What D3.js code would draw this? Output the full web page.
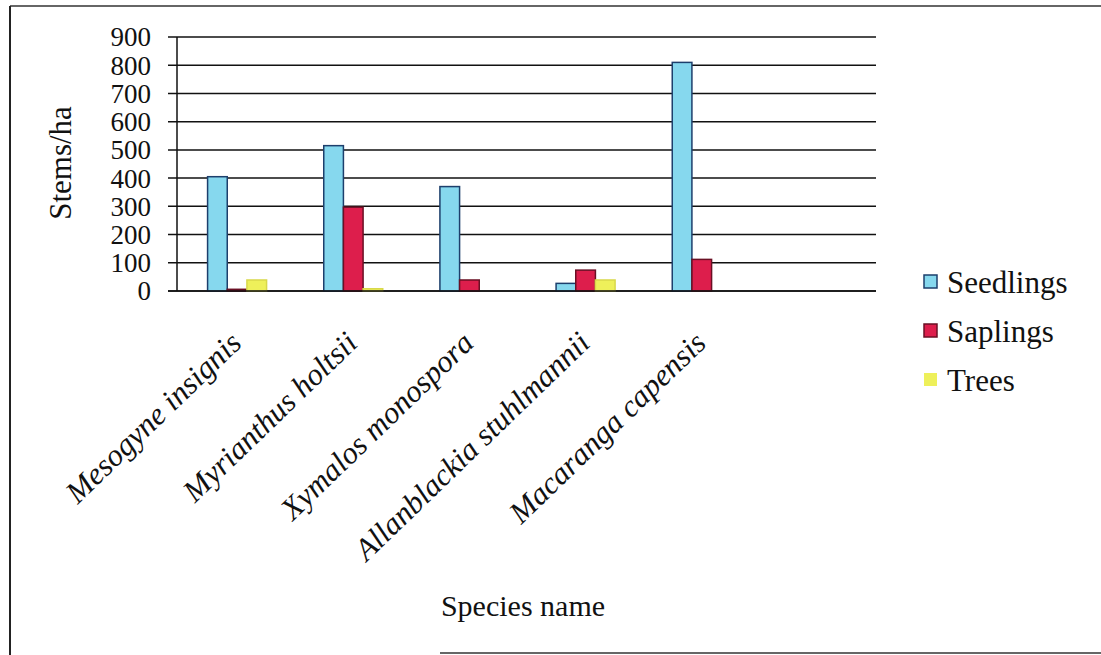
<!DOCTYPE html>
<html>
<head>
<meta charset="utf-8">
<script src="https://cdn.jsdelivr.net/npm/d3@7"></script>
<style>
  body { margin: 0; background: #fff; }
</style>
</head>
<body>
<svg id="chart" width="1101" height="655"></svg>
<script>
// Dati
const species = ["Mesogyne insignis", "Myrianthus holtsii", "Xymalos monospora", "Allanblackia stuhlmannii", "Macaranga capensis", ""];
const seedlings = [405, 515, 370, 27, 810];
const saplings = [6, 297, 39, 74, 112];
const trees = [39, 8, 0, 39, 0];
const seriesNames = ["Seedlings", "Saplings", "Trees"];
const yTicks = [0, 100, 200, 300, 400, 500, 600, 700, 800, 900];

const font = "'Liberation Serif', 'DejaVu Serif', serif";
const fills = { Seedlings: "#86d8ee", Saplings: "#dd1e4c", Trees: "#eef05a" };
const strokes = { Seedlings: "#1d3f6c", Saplings: "#6a1024", Trees: "#d8d84a" };

const svg = d3.select("#chart");

// Cornice (scansione)
svg.append("line").attr("x1", 10).attr("y1", 6).attr("x2", 1101).attr("y2", 6)
  .attr("stroke", "#333").attr("stroke-width", 1.5);
svg.append("line").attr("x1", 10).attr("y1", 6).attr("x2", 10).attr("y2", 655)
  .attr("stroke", "#222").attr("stroke-width", 2);
svg.append("line").attr("x1", 440).attr("y1", 653).attr("x2", 1101).attr("y2", 653)
  .attr("stroke", "#333").attr("stroke-width", 1.5);

// Scale
const x = d3.scaleBand().domain(species).range([179, 876]);
const xSub = d3.scaleBand().domain(seriesNames).range([0, 59]);
const y = d3.scaleLinear().domain([0, 900]).range([291, 37]);

// Griglia
svg.append("g")
  .selectAll("line")
  .data(yTicks)
  .join("line")
  .attr("x1", 168)
  .attr("x2", 876)
  .attr("y1", d => y(d))
  .attr("y2", d => y(d))
  .attr("stroke", "#111")
  .attr("stroke-width", 1.5);

// Asse y
svg.append("line").attr("x1", 177).attr("x2", 177).attr("y1", y(900)).attr("y2", y(0))
  .attr("stroke", "#111").attr("stroke-width", 1.5);

svg.append("g")
  .selectAll("text")
  .data(yTicks)
  .join("text")
  .attr("x", 151)
  .attr("y", d => y(d))
  .attr("dy", "0.35em")
  .attr("text-anchor", "end")
  .style("font-family", font)
  .style("font-size", "27px")
  .attr("fill", "#111")
  .text(d => d);

svg.append("text")
  .attr("transform", "translate(71,163) rotate(-90)")
  .attr("text-anchor", "middle")
  .style("font-family", font)
  .style("font-size", "31px")
  .attr("fill", "#111")
  .text("Stems/ha");

// Barre
const values = { Seedlings: seedlings, Saplings: saplings, Trees: trees };
seriesNames.forEach(name => {
  svg.append("g")
    .selectAll("rect")
    .data(values[name])
    .join("rect")
    .attr("x", (d, i) => x(species[i]) + (x.bandwidth() - 59) / 2 + xSub(name))
    .attr("y", d => y(d))
    .attr("width", xSub.bandwidth())
    .attr("height", d => y(0) - y(d))
    .attr("fill", fills[name])
    .attr("stroke", d => d > 0 ? strokes[name] : "none")
    .attr("stroke-width", 1.5);
});

// Linea di base
svg.append("line").attr("x1", 168).attr("x2", 876).attr("y1", y(0)).attr("y2", y(0))
  .attr("stroke", "#111").attr("stroke-width", 1.5);

// Etichette asse x
svg.append("g")
  .selectAll("text")
  .data(species.filter(d => d !== ""))
  .join("text")
  .attr("transform", d => "translate(" + (x(d) + x.bandwidth() / 2 + 6) + ",345) rotate(-44)")
  .attr("text-anchor", "end")
  .style("font-family", font)
  .style("font-size", "31px")
  .style("font-style", "italic")
  .attr("fill", "#111")
  .text(d => d);

svg.append("text")
  .attr("x", 523)
  .attr("y", 616)
  .attr("text-anchor", "middle")
  .style("font-family", font)
  .style("font-size", "30px")
  .attr("fill", "#111")
  .text("Species name");

// Legenda
const legend = svg.append("g")
  .selectAll("g")
  .data(seriesNames)
  .join("g")
  .attr("transform", (d, i) => "translate(924," + (282 + i * 49) + ")");

legend.append("rect")
  .attr("x", 0)
  .attr("y", -7)
  .attr("width", 13)
  .attr("height", 13)
  .attr("fill", d => fills[d])
  .attr("stroke", d => d === "Trees" ? "none" : strokes[d])
  .attr("stroke-width", 1.5);

legend.append("text")
  .attr("x", 23)
  .attr("dy", "0.35em")
  .style("font-family", font)
  .style("font-size", "31px")
  .attr("fill", "#111")
  .text(d => d);
</script>
</body>
</html>
